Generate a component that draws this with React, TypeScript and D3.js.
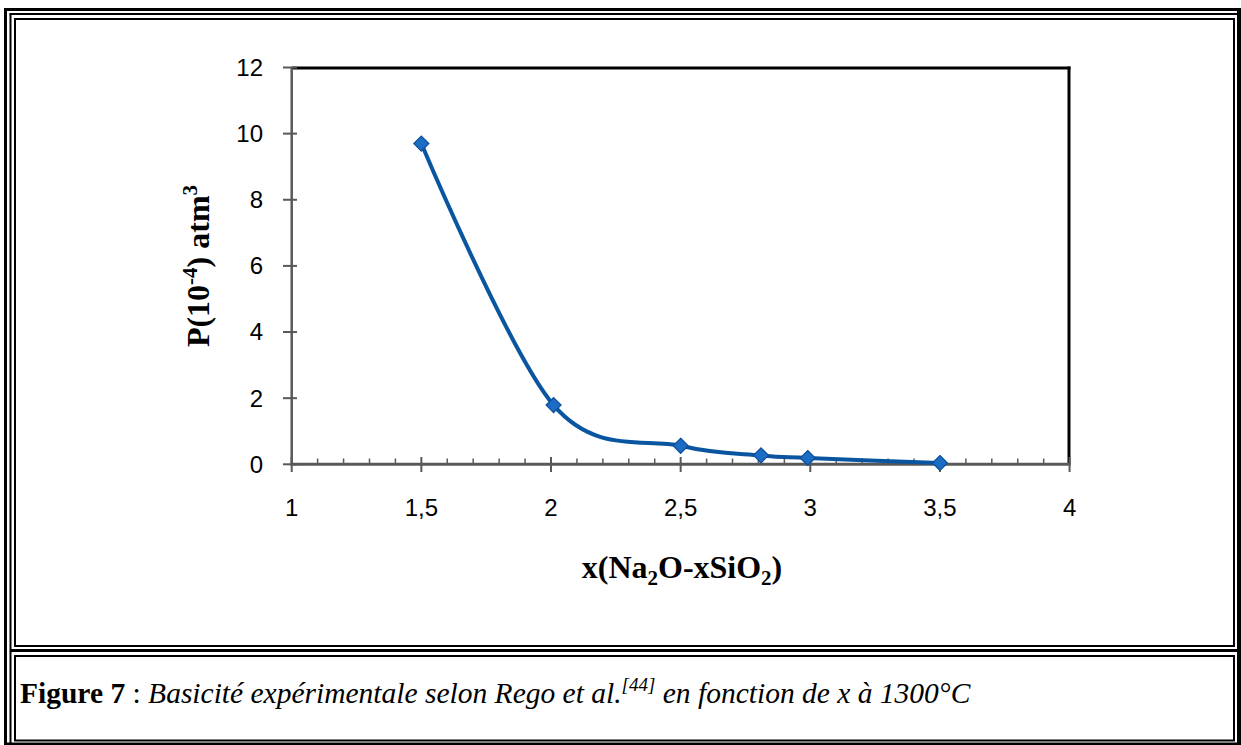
import React from "react";
import * as d3 from "d3";

const xValues = [1.5, 2.01, 2.5, 2.81, 2.99, 3.5];
const yValues = [9.7, 1.79, 0.56, 0.27, 0.19, 0.04];
const xTicks = [1, 1.5, 2, 2.5, 3, 3.5, 4];
const xTickLabels = ["1", "1,5", "2", "2,5", "3", "3,5", "4"];
const yTicks = [0, 2, 4, 6, 8, 10, 12];

const W = 1241;
const H = 745;

export default function App() {
  const x = d3.scaleLinear().domain([1, 4]).range([291.7, 1069.6]);
  const y = d3.scaleLinear().domain([0, 12]).range([464.3, 67.5]);
  const pts: [number, number][] = xValues.map((v, i) => [x(v), y(yValues[i])]);
  const line = d3.line().curve(d3.curveCardinal.tension(0))(pts) || "";
  const minor = d3.range(1, 4.0001, 0.1).filter((v) => Math.abs(v * 2 - Math.round(v * 2)) > 1e-6);
  const axisColor = "#595959";
  const tickFont = "'Liberation Sans', Arial, sans-serif";
  const serif = "'Liberation Serif', 'Times New Roman', serif";
  const d = 7.5;

  return (
    <svg width={W} height={H} style={{ position: "absolute", left: 0, top: 0, background: "#fff" }}>
      <rect x={0} y={0} width={W} height={H} fill="#fff" />
      {/* outer frame */}
      <g fill="none" stroke="#000">
        <line x1={5.5} y1={8} x2={5.5} y2={745} strokeWidth={3} />
        <line x1={4} y1={9.5} x2={1241} y2={9.5} strokeWidth={3} />
        <line x1={1239} y1={8} x2={1239} y2={745} strokeWidth={4} />
        <line x1={4} y1={744} x2={1241} y2={744} strokeWidth={3} />
        <line x1={10.5} y1={13.5} x2={10.5} y2={745} strokeWidth={2} />
        <line x1={9.5} y1={14} x2={1237} y2={14} strokeWidth={2} />
        {/* cell 1 */}
        <rect x={15} y={19} width={1219} height={627} strokeWidth={2} />
        {/* middle separator */}
        <line x1={10} y1={650.5} x2={1239} y2={650.5} strokeWidth={3} />
        {/* cell 2 */}
        <rect x={15} y={656} width={1219} height={84.5} strokeWidth={2} />
      </g>

      {/* plot frame top/right */}
      <line x1={x(1)} y1={68} x2={1070.5} y2={68} stroke="#000" strokeWidth={3} />
      <line x1={1069} y1={66.5} x2={1069} y2={y(0)} stroke="#000" strokeWidth={3} />

      {/* y axis */}
      <line x1={x(1)} y1={y(12)} x2={x(1)} y2={y(0) + 1} stroke={axisColor} strokeWidth={2.5} />
      {yTicks.map((t) => (
        <g key={"yt" + t}>
          <line x1={283} x2={297} y1={y(t)} y2={y(t)} stroke={axisColor} strokeWidth={2} />
          <text x={263} y={y(t)} dy="0.35em" textAnchor="end" fontFamily={tickFont} fontSize={24} fill="#000">
            {t}
          </text>
        </g>
      ))}

      {/* x axis */}
      <line x1={x(1) - 1} y1={y(0)} x2={x(4) + 1} y2={y(0)} stroke={axisColor} strokeWidth={3} />
      {minor.map((t, i) => (
        <line key={"mn" + i} x1={x(t)} x2={x(t)} y1={458.5} y2={y(0)} stroke={axisColor} strokeWidth={1.5} />
      ))}
      {xTicks.map((t, i) => (
        <g key={"xt" + t}>
          <line x1={x(t)} x2={x(t)} y1={457} y2={472} stroke={axisColor} strokeWidth={2} />
          <text x={x(t)} y={516} textAnchor="middle" fontFamily={tickFont} fontSize={24} fill="#000">
            {xTickLabels[i]}
          </text>
        </g>
      ))}

      {/* series */}
      <path d={line} fill="none" stroke="#0A559F" strokeWidth={4} strokeLinejoin="round" />
      {pts.map(([px, py], i) => (
        <path
          key={"m" + i}
          d={`M${px},${py - d}L${px + d},${py}L${px},${py + d}L${px - d},${py}Z`}
          fill="#1A6CC4"
          stroke="#0D4F97"
          strokeWidth={1.2}
        />
      ))}

      {/* axis titles */}
      <text x={682} y={578} textAnchor="middle" fontFamily={serif} fontWeight="bold" fontSize={32} fill="#000">
        x(Na<tspan fontSize={21} dy={7}>2</tspan>
        <tspan dy={-7}>O-xSiO</tspan>
        <tspan fontSize={21} dy={7}>2</tspan>
        <tspan dy={-7}>)</tspan>
      </text>
      <text
        transform="translate(209,266) rotate(-90)"
        textAnchor="middle"
        fontFamily={serif}
        fontWeight="bold"
        fontSize={32}
        fill="#000"
      >
        P(10<tspan fontSize={21} dy={-12}>-4</tspan>
        <tspan dy={12}>) atm</tspan>
        <tspan fontSize={21} dy={-12}>3</tspan>
      </text>

      {/* caption */}
      <text x={20} y={703} fontFamily={serif} fontSize={29.5} fill="#000">
        <tspan fontWeight="bold">Figure 7</tspan>
        <tspan> : </tspan>
        <tspan fontStyle="italic">Basicité expérimentale selon Rego et al.</tspan>
        <tspan fontStyle="italic" fontSize={19} dy={-12}>[44]</tspan>
        <tspan fontStyle="italic" dy={12}> en fonction de x à 1300°C</tspan>
      </text>
    </svg>
  );
}
